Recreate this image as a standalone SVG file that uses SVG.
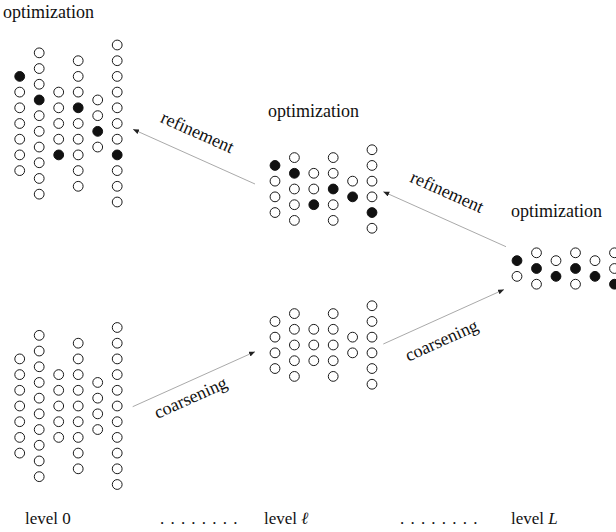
<svg xmlns="http://www.w3.org/2000/svg" width="616" height="532" viewBox="0 0 616 532">
<style>
  text { font-family: 'Liberation Serif', 'DejaVu Serif', serif; fill: #111; }
  .lbl { font-size: 17px; }
  .rot { font-size: 18px; }
  .opt { font-size: 18px; }
  .n { fill: #fff; stroke: #1a1a1a; stroke-width: 1; }
  .f { fill: #111; stroke: #111; stroke-width: 1; }
  .e { fill: none; stroke: #8c8c8c; stroke-width: 0.75; marker-end: url(#ah); }
</style>
<defs>
  <marker id="ah" markerWidth="7" markerHeight="6" refX="6" refY="2.5" orient="auto" markerUnits="userSpaceOnUse">
    <path d="M0,0 L6,2.5 L0,5 z" fill="#222"/>
  </marker>
</defs>
<rect width="616" height="532" fill="#fff"/>

<g id="connectors" font-family="Liberation Serif, serif">
  <line class="e" x1="255" y1="184" x2="133" y2="129.3"/>
  <line class="e" x1="506" y1="246.7" x2="383.3" y2="191.7"/>
  <line class="e" x1="132.7" y1="406.7" x2="255" y2="351.7"/>
  <line class="e" x1="383.3" y1="344" x2="504" y2="289.5"/>
  <text class="rot" text-anchor="middle" transform="translate(195,137.6) rotate(24.1)">refinement</text>
  <text class="rot" text-anchor="middle" transform="translate(444.7,197.3) rotate(24.1)">refinement</text>
  <text class="rot" text-anchor="middle" transform="translate(193,403) rotate(-24.2)">coarsening</text>
  <text class="rot" text-anchor="middle" transform="translate(444,345.7) rotate(-24.2)">coarsening</text>
</g>

<g id="level0-optimized">
  <text class="opt" x="3" y="18">optimization</text>
  <circle class="f" cx="19.7" cy="76.4" r="4.9"/><circle class="n" cx="19.7" cy="92.1" r="4.9"/><circle class="n" cx="19.7" cy="107.8" r="4.9"/><circle class="n" cx="19.7" cy="123.5" r="4.9"/><circle class="n" cx="19.7" cy="139.2" r="4.9"/><circle class="n" cx="19.7" cy="154.9" r="4.9"/><circle class="n" cx="19.7" cy="170.6" r="4.9"/>
  <circle class="n" cx="39.2" cy="52.85" r="4.9"/><circle class="n" cx="39.2" cy="68.55" r="4.9"/><circle class="n" cx="39.2" cy="84.25" r="4.9"/><circle class="f" cx="39.2" cy="99.95" r="4.9"/><circle class="n" cx="39.2" cy="115.65" r="4.9"/><circle class="n" cx="39.2" cy="131.35" r="4.9"/><circle class="n" cx="39.2" cy="147.05" r="4.9"/><circle class="n" cx="39.2" cy="162.75" r="4.9"/><circle class="n" cx="39.2" cy="178.45" r="4.9"/><circle class="n" cx="39.2" cy="194.15" r="4.9"/>
  <circle class="n" cx="58.7" cy="92.1" r="4.9"/><circle class="n" cx="58.7" cy="107.8" r="4.9"/><circle class="n" cx="58.7" cy="123.5" r="4.9"/><circle class="n" cx="58.7" cy="139.2" r="4.9"/><circle class="f" cx="58.7" cy="154.9" r="4.9"/>
  <circle class="n" cx="78.2" cy="60.7" r="4.9"/><circle class="n" cx="78.2" cy="76.4" r="4.9"/><circle class="n" cx="78.2" cy="92.1" r="4.9"/><circle class="f" cx="78.2" cy="107.8" r="4.9"/><circle class="n" cx="78.2" cy="123.5" r="4.9"/><circle class="n" cx="78.2" cy="139.2" r="4.9"/><circle class="n" cx="78.2" cy="154.9" r="4.9"/><circle class="n" cx="78.2" cy="170.6" r="4.9"/><circle class="n" cx="78.2" cy="186.3" r="4.9"/>
  <circle class="n" cx="97.7" cy="99.95" r="4.9"/><circle class="n" cx="97.7" cy="115.65" r="4.9"/><circle class="f" cx="97.7" cy="131.35" r="4.9"/><circle class="n" cx="97.7" cy="147.05" r="4.9"/>
  <circle class="n" cx="117.2" cy="45" r="4.9"/><circle class="n" cx="117.2" cy="60.7" r="4.9"/><circle class="n" cx="117.2" cy="76.4" r="4.9"/><circle class="n" cx="117.2" cy="92.1" r="4.9"/><circle class="n" cx="117.2" cy="107.8" r="4.9"/><circle class="n" cx="117.2" cy="123.5" r="4.9"/><circle class="n" cx="117.2" cy="139.2" r="4.9"/><circle class="f" cx="117.2" cy="154.9" r="4.9"/><circle class="n" cx="117.2" cy="170.6" r="4.9"/><circle class="n" cx="117.2" cy="186.3" r="4.9"/><circle class="n" cx="117.2" cy="202" r="4.9"/>
</g>

<g id="level0-initial">
  <circle class="n" cx="19.7" cy="358.9" r="4.9"/><circle class="n" cx="19.7" cy="374.6" r="4.9"/><circle class="n" cx="19.7" cy="390.3" r="4.9"/><circle class="n" cx="19.7" cy="406" r="4.9"/><circle class="n" cx="19.7" cy="421.7" r="4.9"/><circle class="n" cx="19.7" cy="437.4" r="4.9"/><circle class="n" cx="19.7" cy="453.1" r="4.9"/>
  <circle class="n" cx="39.2" cy="335.35" r="4.9"/><circle class="n" cx="39.2" cy="351.05" r="4.9"/><circle class="n" cx="39.2" cy="366.75" r="4.9"/><circle class="n" cx="39.2" cy="382.45" r="4.9"/><circle class="n" cx="39.2" cy="398.15" r="4.9"/><circle class="n" cx="39.2" cy="413.85" r="4.9"/><circle class="n" cx="39.2" cy="429.55" r="4.9"/><circle class="n" cx="39.2" cy="445.25" r="4.9"/><circle class="n" cx="39.2" cy="460.95" r="4.9"/><circle class="n" cx="39.2" cy="476.65" r="4.9"/>
  <circle class="n" cx="58.7" cy="374.6" r="4.9"/><circle class="n" cx="58.7" cy="390.3" r="4.9"/><circle class="n" cx="58.7" cy="406" r="4.9"/><circle class="n" cx="58.7" cy="421.7" r="4.9"/><circle class="n" cx="58.7" cy="437.4" r="4.9"/>
  <circle class="n" cx="78.2" cy="343.2" r="4.9"/><circle class="n" cx="78.2" cy="358.9" r="4.9"/><circle class="n" cx="78.2" cy="374.6" r="4.9"/><circle class="n" cx="78.2" cy="390.3" r="4.9"/><circle class="n" cx="78.2" cy="406" r="4.9"/><circle class="n" cx="78.2" cy="421.7" r="4.9"/><circle class="n" cx="78.2" cy="437.4" r="4.9"/><circle class="n" cx="78.2" cy="453.1" r="4.9"/><circle class="n" cx="78.2" cy="468.8" r="4.9"/>
  <circle class="n" cx="97.7" cy="382.45" r="4.9"/><circle class="n" cx="97.7" cy="398.15" r="4.9"/><circle class="n" cx="97.7" cy="413.85" r="4.9"/><circle class="n" cx="97.7" cy="429.55" r="4.9"/>
  <circle class="n" cx="117.2" cy="327.5" r="4.9"/><circle class="n" cx="117.2" cy="343.2" r="4.9"/><circle class="n" cx="117.2" cy="358.9" r="4.9"/><circle class="n" cx="117.2" cy="374.6" r="4.9"/><circle class="n" cx="117.2" cy="390.3" r="4.9"/><circle class="n" cx="117.2" cy="406" r="4.9"/><circle class="n" cx="117.2" cy="421.7" r="4.9"/><circle class="n" cx="117.2" cy="437.4" r="4.9"/><circle class="n" cx="117.2" cy="453.1" r="4.9"/><circle class="n" cx="117.2" cy="468.8" r="4.9"/><circle class="n" cx="117.2" cy="484.5" r="4.9"/>
</g>

<g id="levell-optimized">
  <text class="opt" x="268" y="117">optimization</text>
  <circle class="f" cx="275" cy="165.45" r="4.9"/><circle class="n" cx="275" cy="181.15" r="4.9"/><circle class="n" cx="275" cy="196.85" r="4.9"/><circle class="n" cx="275" cy="212.55" r="4.9"/>
  <circle class="n" cx="294.4" cy="157.6" r="4.9"/><circle class="f" cx="294.4" cy="173.3" r="4.9"/><circle class="n" cx="294.4" cy="189" r="4.9"/><circle class="n" cx="294.4" cy="204.7" r="4.9"/><circle class="n" cx="294.4" cy="220.4" r="4.9"/>
  <circle class="n" cx="313.8" cy="173.3" r="4.9"/><circle class="n" cx="313.8" cy="189" r="4.9"/><circle class="f" cx="313.8" cy="204.7" r="4.9"/>
  <circle class="n" cx="333.2" cy="157.6" r="4.9"/><circle class="n" cx="333.2" cy="173.3" r="4.9"/><circle class="f" cx="333.2" cy="189" r="4.9"/><circle class="n" cx="333.2" cy="204.7" r="4.9"/><circle class="n" cx="333.2" cy="220.4" r="4.9"/>
  <circle class="n" cx="352.6" cy="181.15" r="4.9"/><circle class="f" cx="352.6" cy="196.85" r="4.9"/>
  <circle class="n" cx="372" cy="149.75" r="4.9"/><circle class="n" cx="372" cy="165.45" r="4.9"/><circle class="n" cx="372" cy="181.15" r="4.9"/><circle class="n" cx="372" cy="196.85" r="4.9"/><circle class="f" cx="372" cy="212.55" r="4.9"/><circle class="n" cx="372" cy="228.25" r="4.9"/>
</g>

<g id="levell-initial">
  <circle class="n" cx="275" cy="321.45" r="4.9"/><circle class="n" cx="275" cy="337.15" r="4.9"/><circle class="n" cx="275" cy="352.85" r="4.9"/><circle class="n" cx="275" cy="368.55" r="4.9"/>
  <circle class="n" cx="294.4" cy="313.6" r="4.9"/><circle class="n" cx="294.4" cy="329.3" r="4.9"/><circle class="n" cx="294.4" cy="345" r="4.9"/><circle class="n" cx="294.4" cy="360.7" r="4.9"/><circle class="n" cx="294.4" cy="376.4" r="4.9"/>
  <circle class="n" cx="313.8" cy="329.3" r="4.9"/><circle class="n" cx="313.8" cy="345" r="4.9"/><circle class="n" cx="313.8" cy="360.7" r="4.9"/>
  <circle class="n" cx="333.2" cy="313.6" r="4.9"/><circle class="n" cx="333.2" cy="329.3" r="4.9"/><circle class="n" cx="333.2" cy="345" r="4.9"/><circle class="n" cx="333.2" cy="360.7" r="4.9"/><circle class="n" cx="333.2" cy="376.4" r="4.9"/>
  <circle class="n" cx="352.6" cy="337.15" r="4.9"/><circle class="n" cx="352.6" cy="352.85" r="4.9"/>
  <circle class="n" cx="372" cy="305.75" r="4.9"/><circle class="n" cx="372" cy="321.45" r="4.9"/><circle class="n" cx="372" cy="337.15" r="4.9"/><circle class="n" cx="372" cy="352.85" r="4.9"/><circle class="n" cx="372" cy="368.55" r="4.9"/><circle class="n" cx="372" cy="384.25" r="4.9"/>
</g>

<g id="levelL">
  <text class="opt" x="511" y="217">optimization</text>
  <circle class="f" cx="517" cy="260.65" r="4.9"/><circle class="n" cx="517" cy="276.35" r="4.9"/>
  <circle class="n" cx="536.5" cy="252.8" r="4.9"/><circle class="f" cx="536.5" cy="268.5" r="4.9"/><circle class="n" cx="536.5" cy="284.2" r="4.9"/>
  <circle class="n" cx="556" cy="260.65" r="4.9"/><circle class="f" cx="556" cy="276.35" r="4.9"/>
  <circle class="n" cx="575.5" cy="252.8" r="4.9"/><circle class="f" cx="575.5" cy="268.5" r="4.9"/><circle class="n" cx="575.5" cy="284.2" r="4.9"/>
  <circle class="n" cx="595" cy="260.65" r="4.9"/><circle class="f" cx="595" cy="276.35" r="4.9"/>
  <circle class="n" cx="614.5" cy="252.8" r="4.9"/><circle class="n" cx="614.5" cy="268.5" r="4.9"/><circle class="f" cx="614.5" cy="284.2" r="4.9"/>
</g>

<g id="level-labels">
  <text class="lbl" x="25" y="524">level 0</text>
  <text class="lbl" x="160" y="524" letter-spacing="6.2">........</text>
  <text class="lbl" x="264" y="524">level <tspan font-style="italic">ℓ</tspan></text>
  <text class="lbl" x="400" y="524" letter-spacing="6.2">........</text>
  <text class="lbl" x="511" y="524">level <tspan font-style="italic">L</tspan></text>
</g>
</svg>
